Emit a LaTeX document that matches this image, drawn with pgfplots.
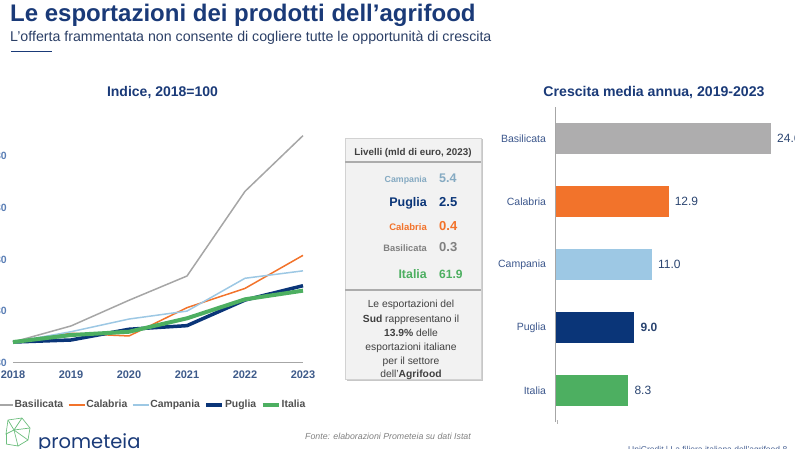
\documentclass[border=0pt]{standalone}
\usepackage{pgfplots}
\pgfplotsset{compat=1.18}
\usepackage{fontspec}
\setmainfont{Liberation Sans}
\newfontfamily\logofont{Poppins}
\usetikzlibrary{shadows}
\definecolor{ttl}{HTML}{1A3A78}
\definecolor{sub}{HTML}{2B3F66}
\definecolor{cgray}{HTML}{A6A6A6}
\definecolor{bgray}{HTML}{AEADAE}
\definecolor{corange}{HTML}{F2732B}
\definecolor{clight}{HTML}{9DC8E4}
\definecolor{cnavy}{HTML}{0A3578}
\definecolor{cgreen}{HTML}{4DAF61}
\definecolor{tickc}{HTML}{3D5A8A}
\definecolor{ytickc}{HTML}{5A7EB5}
\definecolor{legtxt}{HTML}{505050}
\definecolor{boxbg}{HTML}{F2F2F2}
\definecolor{dtxt}{HTML}{404040}
\definecolor{valc}{HTML}{2A4470}
\definecolor{logogreen}{HTML}{6DBE7E}
\begin{document}
\begin{tikzpicture}[x=1pt,y=1pt]
\useasboundingbox (0,0) rectangle (795,448);
\clip (0,0) rectangle (795,448);
% titles
\node[anchor=base west, inner sep=0pt, font=\fontsize{24}{28}\selectfont\bfseries, text=ttl] at (10,426.5) {Le esportazioni dei prodotti dell’agrifood};
\node[anchor=base west, inner sep=0pt, font=\fontsize{14.2}{16}\selectfont, text=sub] at (10,406) {L’offerta frammentata non consente di cogliere tutte le opportunità di crescita};
\draw[ttl, line width=1.8pt] (11,396.5) -- (52,396.5);
\node[anchor=base, inner sep=0pt, font=\fontsize{14}{16}\selectfont\bfseries, text=ttl] at (162.5,351) {Indice, 2018=100};
\node[anchor=base, inner sep=0pt, font=\fontsize{14.1}{16}\selectfont\bfseries, text=ttl] at (654,351) {Crescita media annua, 2019-2023};

% left line chart
\begin{axis}[at={(13pt,85.3pt)}, anchor=south west, scale only axis,
  width=290pt, height=237.4pt,
  xmin=2018, xmax=2023, ymin=80, ymax=310,
  axis x line=bottom, axis y line=left, axis line style={-},
  x axis line style={cgray, line width=0.9pt},
  y axis line style={draw=none},
  xtick={2018,2019,2020,2021,2022,2023},
  xticklabels={2018,2019,2020,2021,2022,2023},
  minor xtick={2018.5,2019.5,2020.5,2021.5,2022.5},
  tick align=outside, major tick length=0pt, minor tick length=3pt,
  minor tick style={cgray, line width=0.8pt},
  xtick style={draw=none},
  ytick={80,130,180,230,280},
  yticklabels={80,130,180,230,280},
  ytick style={draw=none},
  xticklabel style={font=\fontsize{11}{12}\selectfont\bfseries, text=tickc, inner sep=0pt, yshift=-8pt},
  yticklabel style={font=\fontsize{10.5}{12}\selectfont\bfseries, text=ytickc, inner sep=0pt, xshift=-6pt},
  clip=false,
  legend columns=5,
  legend image code/.code={\draw[#1] (0pt,0pt) -- (16pt,0pt);},
  legend style={at={(-0.0586,-0.178)}, anchor=west, draw=none, fill=none,
    font=\fontsize{10.4}{12}\selectfont\bfseries, text=legtxt, inner sep=0pt,
    nodes={inner sep=1pt},
    /tikz/every even column/.append style={column sep=3.5pt}},
]
\addplot[cgray, line width=1.5pt] coordinates {(2018,100) (2019,115.6) (2020,140.5) (2021,164) (2022,246) (2023,300)};
\addlegendentry{Basilicata}
\addplot[corange, line width=1.5pt] coordinates {(2018,100) (2019,108.5) (2020,105.9) (2021,133.3) (2022,152) (2023,184)};
\addlegendentry{Calabria}
\addplot[clight, line width=1.5pt] coordinates {(2018,100) (2019,110) (2020,122.3) (2021,130) (2022,161.8) (2023,169)};
\addlegendentry{Campania}
\addplot[cnavy, line width=3.5pt] coordinates {(2018,100) (2019,102) (2020,112.4) (2021,115.9) (2022,140.7) (2023,154.6)};
\addlegendentry{Puglia}
\addplot[cgreen, line width=4pt] coordinates {(2018,100) (2019,106.8) (2020,110) (2021,123) (2022,141.4) (2023,149.8)};
\addlegendentry{Italia}
\end{axis}

% middle box
\draw[fill=boxbg, draw=gray!35, drop shadow={shadow xshift=1.5pt, shadow yshift=-1.5pt, fill=gray!55, opacity=0.8}] (345,310) rectangle (481,69);
\draw[gray!65, line width=1.6pt] (345,286.3) -- (481,286.3);
\draw[gray!65, line width=1.6pt] (345,158) -- (481,158);
\node[anchor=base, inner sep=0pt, font=\fontsize{9.8}{11}\selectfont\bfseries, text=dtxt] at (413,292) {Livelli (mld di euro, 2023)};
\node[anchor=base east, inner sep=0pt, font=\fontsize{8.8}{10}\selectfont\bfseries, text=clight!85!black] at (427,265.5) {Campania};
\node[anchor=base west, inner sep=0pt, font=\fontsize{12.5}{14}\selectfont\bfseries, text=clight!85!black] at (439,265.5) {5.4};
\node[anchor=base east, inner sep=0pt, font=\fontsize{12.5}{14}\selectfont\bfseries, text=cnavy] at (427,242) {Puglia};
\node[anchor=base west, inner sep=0pt, font=\fontsize{13}{14}\selectfont\bfseries, text=cnavy] at (439,242) {2.5};
\node[anchor=base east, inner sep=0pt, font=\fontsize{9.5}{10}\selectfont\bfseries, text=corange] at (427,218) {Calabria};
\node[anchor=base west, inner sep=0pt, font=\fontsize{13}{14}\selectfont\bfseries, text=corange] at (439,218) {0.4};
\node[anchor=base east, inner sep=0pt, font=\fontsize{9.3}{10}\selectfont\bfseries, text=gray] at (427,196.5) {Basilicata};
\node[anchor=base west, inner sep=0pt, font=\fontsize{13}{14}\selectfont\bfseries, text=gray] at (439,196.5) {0.3};
\node[anchor=base east, inner sep=0pt, font=\fontsize{12.4}{14}\selectfont\bfseries, text=cgreen] at (427,169.5) {Italia};
\node[anchor=base west, inner sep=0pt, font=\fontsize{12}{14}\selectfont\bfseries, text=cgreen] at (439,169.5) {61.9};
\begin{scope}[every node/.style={anchor=base, inner sep=0pt, font=\fontsize{10.3}{12}\selectfont, text=dtxt}]
\node at (411,141) {Le esportazioni del};
\node at (411,126) {\textbf{Sud} rappresentano il};
\node at (411,111.5) {\textbf{13.9\%} delle};
\node at (411,97.5) {esportazioni italiane};
\node at (411,84) {per il settore};
\node at (411,71) {dell’\textbf{Agrifood}};
\end{scope}

% right bar chart
\begin{axis}[at={(555.7pt,26pt)}, anchor=south west, scale only axis,
  width=236.25pt, height=315pt,
  xmin=0, xmax=27, ymin=-0.5, ymax=4.5,
  xbar, bar width=31.5pt,
  axis x line=none, axis y line=left, axis line style={-},
  y axis line style={gray!70, line width=0.9pt},
  ytick={0,1,2,3,4},
  yticklabels={Italia,Puglia,Campania,Calabria,Basilicata},
  ytick style={draw=none}, major tick length=0pt,
  yticklabel style={font=\fontsize{10.5}{12}\selectfont, text=ttl!85, inner sep=0pt, xshift=-9.5pt},
  point meta=explicit symbolic,
  nodes near coords,
  nodes near coords style={anchor=west, inner sep=0pt, xshift=6pt, font=\fontsize{12}{14}\selectfont, text=valc},
  clip=false,
]
\addplot[fill=bgray, draw=none, bar shift=0pt] coordinates {(24.6,4) [24.6]};
\addplot[fill=corange, draw=none, bar shift=0pt] coordinates {(12.9,3) [12.9]};
\addplot[fill=clight, draw=none, bar shift=0pt] coordinates {(11.0,2) [11.0]};
\addplot[fill=cnavy, draw=none, bar shift=0pt, nodes near coords style={font=\fontsize{12}{14}\selectfont\bfseries}] coordinates {(9.0,1) [9.0]};
\addplot[fill=cgreen, draw=none, bar shift=0pt] coordinates {(8.3,0) [8.3]};
\end{axis}

% logo and footer
\begin{scope}[draw=logogreen, line width=0.7pt]
\draw (8,28) -- (22,30) -- (30,20) -- (28,8) -- (18,2);
\draw (8,28) -- (14,18) -- (22,30);
\draw (14,18) -- (30,20);
\draw (14,18) -- (28,8);
\draw (14,18) -- (18,2) -- (6,4);
\draw (8,28) -- (6,14) -- (14,18);
\draw (6,14) -- (6,4);
\end{scope}
\node[anchor=base west, inner sep=0pt, font=\logofont\fontsize{19.5}{22}\selectfont, text=ttl] at (38,0) {prometeia};
\node[anchor=base west, inner sep=0pt, font=\fontsize{8.8}{10}\selectfont\itshape, text=gray] at (305,9) {Fonte: elaborazioni Prometeia su dati Istat};
\node[anchor=base west, inner sep=0pt, font=\fontsize{8.5}{10}\selectfont, text=ttl!80] at (628,-4.5) {UniCredit | La filiera italiana dell’agrifood 8};
\draw[gray!60] (557,28) -- (557,24);
\end{tikzpicture}
\end{document}
